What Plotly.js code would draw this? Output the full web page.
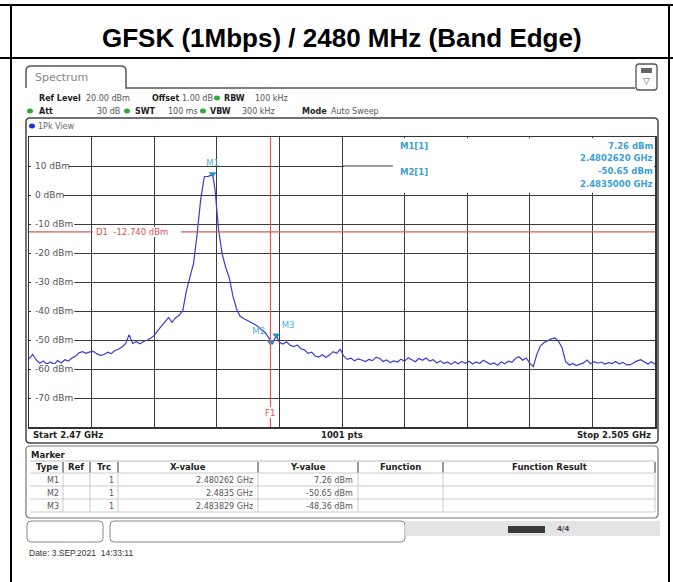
<!DOCTYPE html>
<html><head><meta charset="utf-8">
<script src="https://cdn.plot.ly/plotly-3.0.1.min.js"></script>
<style>html,body{margin:0;padding:0;background:#fff}#chart{width:673px;height:582px}</style>
</head><body><div id="chart"></div>
<script>
// ---------------- data ----------------
const freqGHz = [
2.4700,2.4702,2.4704,2.4706,2.4708,2.4710,2.4712,2.4714,2.4716,2.4718,
2.4720,2.4722,2.4724,2.4726,2.4728,2.4730,2.4732,2.4734,2.4736,2.4738,
2.4740,2.4742,2.4744,2.4746,2.4748,2.4750,2.4752,2.4754,2.4756,2.4758,
2.4760,2.4762,2.4764,2.4766,2.4768,2.4770,2.4772,2.4774,2.4776,2.4778,
2.4780,2.4782,2.4784,2.4786,2.4788,2.4790,2.4792,2.4794,2.4796,2.4798,
2.4800,2.4802,2.480262,2.4804,2.4806,2.4808,2.4810,2.4812,2.4814,2.4816,
2.4818,2.4820,2.4822,2.4824,2.4826,2.4828,2.4830,2.4832,2.4834,2.4835,
2.4836,2.483829,2.4840,2.4842,2.4844,2.4846,2.4848,2.4850,2.4852,2.4854,
2.4856,2.4858,2.4860,2.4862,2.4864,2.4866,2.4868,2.4870,2.4872,2.4874,
2.4876,2.4878,2.4880,2.4882,2.4884,2.4886,2.4888,2.4890,2.4892,2.4894,
2.4896,2.4898,2.4900,2.4902,2.4904,2.4906,2.4908,2.4910,2.4912,2.4914,
2.4916,2.4918,2.4920,2.4922,2.4924,2.4926,2.4928,2.4930,2.4932,2.4934,
2.4936,2.4938,2.4940,2.4942,2.4944,2.4946,2.4948,2.4950,2.4952,2.4954,
2.4956,2.4958,2.4960,2.4962,2.4964,2.4966,2.4968,2.4970,2.4972,2.4974,
2.4976,2.4978,2.4980,2.4982,2.4984,2.4986,2.4988,2.4990,2.4992,2.4994,
2.4996,2.4998,2.5000,2.5002,2.5004,2.5006,2.5008,2.5010,2.5012,2.5014,
2.5016,2.5018,2.5020,2.5022,2.5024,2.5026,2.5028,2.5030,2.5032,2.5034,
2.5036,2.5038,2.5040,2.5042,2.5044,2.5046,2.5048,2.5050
];
const levelDbm = [
-56.5,-55.0,-56.8,-58.0,-57.2,-58.3,-57.6,-58.4,-57.1,-57.9,
-56.8,-57.3,-56.2,-55.6,-54.4,-54.0,-54.6,-54.1,-53.9,-54.8,
-55.3,-55.0,-54.2,-54.7,-53.6,-53.2,-52.4,-51.3,-48.2,-51.2,
-50.6,-51.3,-50.5,-50.1,-49.4,-48.4,-46.8,-45.3,-43.6,-42.2,
-43.9,-42.3,-41.5,-39.8,-33.0,-28.0,-23.6,-13.5,-1.5,6.3,
6.4,6.8,7.26,2.0,-12.0,-20.4,-25.0,-28.6,-34.8,-39.2,
-41.8,-42.6,-43.4,-43.9,-44.6,-45.3,-46.5,-47.4,-49.2,-50.65,
-51.5,-48.36,-50.8,-51.4,-50.6,-51.8,-52.3,-51.7,-53.0,-53.4,
-54.6,-54.2,-55.5,-55.9,-55.1,-56.0,-55.2,-54.0,-54.6,-53.2,
-55.6,-56.7,-56.3,-57.2,-56.5,-56.9,-57.4,-56.7,-57.1,-56.0,
-56.3,-57.4,-56.9,-57.8,-57.2,-57.6,-56.6,-57.3,-56.1,-56.8,
-57.5,-56.4,-57.0,-56.2,-57.3,-56.8,-57.9,-57.2,-58.1,-57.6,
-58.4,-57.5,-58.2,-57.4,-58.0,-57.3,-58.3,-57.6,-58.1,-57.0,
-57.8,-58.4,-57.9,-58.7,-57.6,-58.2,-57.3,-57.7,-56.4,-55.8,
-57.0,-56.2,-58.0,-59.2,-54.8,-52.0,-50.9,-50.3,-49.6,-49.3,
-50.4,-52.6,-57.4,-58.6,-58.1,-58.8,-58.3,-57.9,-56.9,-58.2,
-57.5,-58.0,-57.6,-58.3,-57.8,-58.1,-57.4,-58.2,-57.7,-58.5,
-58.6,-57.8,-57.2,-56.8,-57.6,-58.3,-57.5,-58.4
];
const markerNames = ['M1','M2','M3'];
const markerFreq = [2.480262, 2.4835, 2.483829];
const markerLevel = [7.26, -50.65, -48.36];
const yLabelVals = [10,0,-10,-20,-30,-40,-50,-60,-70];
const displayLineDbm = -12.74;
const freqLineGHz = 2.4835;
const startGHz = 2.47, stopGHz = 2.505;
const titleText = 'GFSK (1Mbps) / 2480 MHz (Band Edge)';
const markerRows = [
  ['M1','','1','2.480262 GHz','7.26 dBm'],
  ['M2','','1','2.4835 GHz','-50.65 dBm'],
  ['M3','','1','2.483829 GHz','-48.36 dBm']
];

// ------------- geometry helpers (pixel -> paper) -------------
const L=29, T=137, W=626, H=290;
const px = x => (x-L)/W;
const py = y => (T+H-y)/H;
const FONT = 'DejaVu Sans, Verdana, sans-serif';
const ann = [];
const shp = [];
function txt(x,y,text,o={}){
  ann.push({xref:'paper',yref:'paper',x:px(x),y:py(y),text:text,showarrow:false,
    xanchor:o.xa||'left',yanchor:'middle',
    font:{family:o.family||FONT,size:o.size||8,color:o.color||'#222',weight:o.bold?'bold':'normal'}});
}
function line(x0,y0,x1,y1,color,w){
  shp.push({type:'line',xref:'paper',yref:'paper',x0:px(x0),y0:py(y0),x1:px(x1),y1:py(y1),
    line:{color:color,width:w},layer:'above'});
}
function rect(x0,y0,x1,y1,fill){
  shp.push({type:'rect',xref:'paper',yref:'paper',x0:px(x0),y0:py(y0),x1:px(x1),y1:py(y1),
    fillcolor:fill,line:{width:0},layer:'above'});
}
function P(x,y){return px(x)+','+py(y);}
function rrect(x0,y0,x1,y1,r,lc,lw,fill){
  const d='M'+P(x0,y0+r)+' Q'+P(x0,y0)+' '+P(x0+r,y0)+' L'+P(x1-r,y0)+' Q'+P(x1,y0)+' '+P(x1,y0+r)+
    ' L'+P(x1,y1-r)+' Q'+P(x1,y1)+' '+P(x1-r,y1)+' L'+P(x0+r,y1)+' Q'+P(x0,y1)+' '+P(x0,y1-r)+' Z';
  shp.push({type:'path',xref:'paper',yref:'paper',path:d,line:{color:lc,width:lw},fillcolor:fill||'rgba(0,0,0,0)',layer:'above'});
}
function dot(x,y,c){
  shp.push({type:'circle',xref:'paper',yref:'paper',x0:px(x-3),x1:px(x+3),y0:py(y+2.5),y1:py(y-2.5),
    fillcolor:c,line:{width:0},layer:'above'});
}

// ------------- outer table -------------
line(0,5,673,5,'#000',2);
line(0,58,673,58,'#000',2);
line(11,5,11,582,'#000',2);
line(669,5,669,582,'#000',2);
ann.push({xref:'paper',yref:'paper',x:px(342),y:py(38),text:'<b>'+titleText+'</b>',showarrow:false,
  xanchor:'center',yanchor:'middle',font:{family:'Liberation Sans, Arial, sans-serif',size:26,color:'#000'}});

// ------------- spectrum header -------------
shp.push({type:'path',xref:'paper',yref:'paper',layer:'above',line:{color:'#555',width:1.5},
  path:'M'+P(26,88)+' L'+P(26,71)+' Q'+P(26,66)+' '+P(31,66)+' L'+P(121,66)+' Q'+P(126,66)+' '+P(126,71)+' L'+P(126,88)+' L'+P(635,88)});
txt(33,77,'Spectrum',{size:11,color:'#888'});
rrect(636,64,657,90,3,'#555',1.3,'#fff');
rect(641,68,652,73,'#666');
txt(646.5,81,'▽',{size:9,xa:'center',color:'#555'});

txt(37,98,'Ref Level',{bold:true});
txt(84,98,'20.00 dBm',{color:'#555'});
txt(150,98,'Offset',{bold:true});
txt(180,98,'1.00 dB',{color:'#555'});
dot(217,98,'#3a3');
txt(222,98,'RBW',{bold:true});
txt(253,98,'100 kHz',{color:'#555'});
dot(30,111,'#3a3');
txt(37,111,'Att',{bold:true});
txt(122,111,'30 dB',{color:'#555',xa:'right'});
dot(127,111,'#3a3');
txt(133,111,'SWT',{bold:true});
txt(166,111,'100 ms',{color:'#555'});
dot(203,111,'#3a3');
txt(208,111,'VBW',{bold:true});
txt(240,111,'300 kHz',{color:'#555'});
txt(300,111,'Mode',{bold:true});
txt(329,111,'Auto Sweep',{color:'#555'});

// view box
rrect(26,118,658,443,4,'#444',1.5);
dot(32,126,'#2233cc');
txt(36,126,'1Pk View',{color:'#666'});
txt(31,435,'Start 2.47 GHz',{bold:true,size:8.5});
txt(342,435,'1001 pts',{bold:true,size:8.5,xa:'center'});
txt(653,435,'Stop 2.505 GHz',{bold:true,size:8.5,xa:'right'});

// ------------- plot overlays (drawn above the grid) -------------
shp.push({type:'line',xref:'paper',yref:'y',x0:0,x1:1,y0:displayLineDbm,y1:displayLineDbm,line:{color:'#e05a5a',width:1.2},layer:'above'});
shp.push({type:'line',xref:'x',yref:'paper',x0:freqLineGHz,x1:freqLineGHz,y0:0,y1:1,line:{color:'#e05a5a',width:1.2},layer:'above'});
shp.push({type:'rect',xref:'paper',yref:'y',x0:px(344),x1:px(654),y0:0.8,y1:19.6,fillcolor:'#fff',line:{width:0},layer:'above'});
shp.push({type:'line',xref:'paper',yref:'y',x0:px(343),x1:px(393),y0:10,y1:10,line:{color:'#3a3a3a',width:1},layer:'above'});
yLabelVals.forEach(v=>{
  const s = v+' dBm';
  shp.push({type:'rect',xref:'paper',yref:'y',x0:px(31),x1:px(35+s.length*5.6),y0:v-1.7,y1:v+1.7,fillcolor:'#fff',line:{width:0},layer:'above'});
  ann.push({xref:'paper',yref:'y',x:px(33),y:v,text:s,showarrow:false,xanchor:'left',yanchor:'middle',
    font:{family:FONT,size:9,color:'#555'}});
});
shp.push({type:'rect',xref:'paper',yref:'y',x0:px(93),x1:px(181),y0:displayLineDbm-1.7,y1:displayLineDbm+1.7,fillcolor:'#fff',line:{width:0},layer:'above'});
ann.push({xref:'paper',yref:'y',x:px(94),y:displayLineDbm,text:'D1  -12.740 dBm',showarrow:false,xanchor:'left',yanchor:'middle',
  font:{family:FONT,size:8.5,color:'#e05050'}});
shp.push({type:'rect',xref:'x',yref:'y',x0:freqLineGHz-0.0003,x1:freqLineGHz+0.0003,y0:-76.9,y1:-73.1,fillcolor:'#fff',line:{width:0},layer:'above'});
ann.push({xref:'x',yref:'y',x:freqLineGHz,y:-75,text:'F1',showarrow:false,xanchor:'center',yanchor:'middle',
  font:{family:FONT,size:8.5,color:'#e05050'}});

// marker readout
const mc = '#3a9fd6';
txt(398,146,'M1[1]',{bold:true,color:mc,size:8.5});
txt(655,146,'7.26 dBm',{bold:true,color:mc,size:8.5,xa:'right'});
txt(655,158,'2.4802620 GHz',{bold:true,color:mc,size:8.5,xa:'right'});
txt(398,172,'M2[1]',{bold:true,color:mc,size:8.5});
txt(655,171,'-50.65 dBm',{bold:true,color:mc,size:8.5,xa:'right'});
txt(655,184,'2.4835000 GHz',{bold:true,color:mc,size:8.5,xa:'right'});

// ------------- marker table -------------
rrect(26,446,658,518,4,'#777',1.2);
txt(29,455,'Marker',{bold:true,size:8.5});
line(30,461,655,461,'#bbb',1);
const colX=[63,90,118,258,358,443,655];
colX.forEach(x=>line(x,462,x,473,'#555',1.2));
colX.forEach(x=>line(x,474,x,512,'#ccc',1));
[473,486,499,512].forEach(y=>line(30,y,655,y,'#ccc',1));
txt(47,467,'Type',{bold:true,size:8.5,xa:'center'});
txt(76,467,'Ref',{bold:true,size:8.5,xa:'center'});
txt(104,467,'Trc',{bold:true,size:8.5,xa:'center'});
txt(188,467,'X-value',{bold:true,size:8.5,xa:'center'});
txt(308,467,'Y-value',{bold:true,size:8.5,xa:'center'});
txt(400,467,'Function',{bold:true,size:8.5,xa:'center'});
txt(549,467,'Function Result',{bold:true,size:8.5,xa:'center'});
markerRows.forEach((r,i)=>{
  const y=480+i*13;
  txt(61,y,r[0],{xa:'right',color:'#555'});
  txt(116,y,r[2],{xa:'right',color:'#555'});
  txt(255,y,r[3],{xa:'right',color:'#555'});
  txt(355,y,r[4],{xa:'right',color:'#555'});
});

// ------------- status bar -------------
rrect(27,521,103,542,4,'#888',1);
rrect(110,521,405,542,4,'#888',1);
rect(405,521,660,536,'#e4e4e4');
rect(508,526,545,533,'#3a3a3a');
txt(555,529,'4/4',{bold:true,size:7,color:'#444'});
txt(27,553,'Date: 3.SEP.2021  14:33:11',{family:'Liberation Sans, Arial, sans-serif',size:8.5,color:'#333'});

// ------------- traces -------------
const traces = [
  {x:freqGHz,y:levelDbm,type:'scatter',mode:'lines',line:{color:'#3c3cd0',width:1.2},hoverinfo:'skip'},
  {x:markerFreq,y:markerLevel,type:'scatter',mode:'markers+text',text:markerNames,
   textposition:['top center','top left','top right'],
   textfont:{family:FONT,size:8.5,color:'#4fb0de'},
   marker:{symbol:'triangle-down',size:7,color:'#2a8fc4'},hoverinfo:'skip'}
];

const layout = {
  width:673,height:582,showlegend:false,
  paper_bgcolor:'#fff',plot_bgcolor:'#fff',
  margin:{l:L,r:673-L-W,t:T,b:582-T-H,pad:0},
  xaxis:{range:[startGHz,stopGHz],tick0:startGHz,dtick:0.0035,showgrid:true,gridcolor:'#3a3a3a',gridwidth:1,
    showticklabels:false,ticks:'',zeroline:false,showline:true,mirror:true,linecolor:'#333',linewidth:1.5},
  yaxis:{range:[-80,20],tick0:-80,dtick:10,showgrid:true,gridcolor:'#3a3a3a',gridwidth:1,
    showticklabels:false,ticks:'',zeroline:false,showline:true,mirror:true,linecolor:'#333',linewidth:1.5},
  shapes:shp,annotations:ann
};
Plotly.newPlot('chart',traces,layout,{displayModeBar:false,staticPlot:true});
</script></body></html>
